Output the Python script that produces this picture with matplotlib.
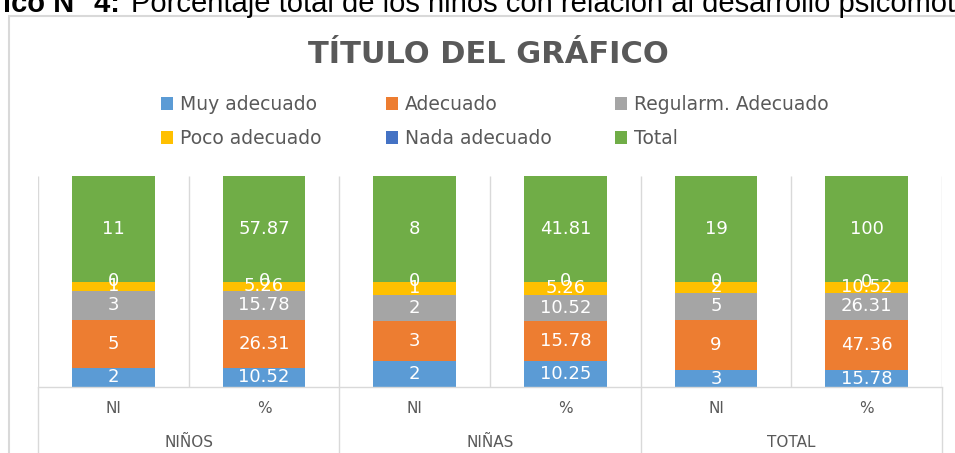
import numpy as np
import matplotlib
matplotlib.use("Agg")
import matplotlib.pyplot as plt
from matplotlib.patches import Patch, Rectangle

# categories (two-level axis)
cats = ['NI', '%', 'NI', '%', 'NI', '%']
groups = ['NIÑOS', 'NIÑAS', 'TOTAL']

# series values
muy_adecuado = [2, 10.52, 2, 10.25, 3, 15.78]
adecuado = [5, 26.31, 3, 15.78, 9, 47.36]
regular = [3, 15.78, 2, 10.52, 5, 26.31]
poco = [1, 5.26, 1, 5.26, 2, 10.52]
nada = [0, 0, 0, 0, 0, 0]
total = [11, 57.87, 8, 41.81, 19, 100]

series = [
    ('Muy adecuado', muy_adecuado, '#5B9BD5'),
    ('Adecuado', adecuado, '#ED7D31'),
    ('Regularm. Adecuado', regular, '#A5A5A5'),
    ('Poco adecuado', poco, '#FFC000'),
    ('Nada adecuado', nada, '#4472C4'),
    ('Total', total, '#70AD47'),
]

grey = '#595959'
line = '#D9D9D9'

W, H = 955, 453
fig = plt.figure(figsize=(W / 100, H / 100), dpi=100)

# caption above the chart (cut off in the source)
fig.text(120 / W, 1 - 12 / H, 'Gráfico N° 4:', ha='right', va='baseline',
         fontsize=21, fontweight='bold', family='Liberation Sans', color='black')
fig.text(131 / W, 1 - 12 / H,
         'Porcentaje total de los niños con relación al desarrollo psicomotor',
         ha='left', va='baseline', fontsize=21, family='Liberation Sans', color='black')

# chart area border
fig.add_artist(Rectangle((9 / W, -0.1), 1.2, 1 - 16 / H + 0.1, transform=fig.transFigure,
                         fill=False, edgecolor=line, lw=1.5))

fig.text(488 / W, 1 - 63 / H, 'TÍTULO DEL GRÁFICO', ha='center', va='baseline',
         fontsize=22, fontweight='bold', color=grey)

ax = fig.add_axes([38 / W, 66 / H, (942 - 38) / W, 211 / H])

x = np.arange(len(cats))
sums = np.sum([np.array(v, dtype=float) for _, v, _ in series], axis=0)
bottom = np.zeros(len(cats))
handles = {}
for name, vals, color in series:
    frac = np.array(vals, dtype=float) / sums
    bars = ax.bar(x, frac, 0.55, bottom=bottom, color=color, zorder=2)
    ax.bar_label(bars, labels=[f'{v:g}' for v in vals], label_type='center',
                 color='white', fontsize=13, zorder=3)
    handles[name] = Patch(facecolor=color)
    bottom += frac

ax.set_xlim(-0.5, 5.5)
ax.set_ylim(0, 1)
ax.set_yticks([])
for s in ['top', 'left', 'right']:
    ax.spines[s].set_visible(False)
ax.spines['bottom'].set_color(line)
ax.spines['bottom'].set_linewidth(1)

# separators between categories
xt = ax.get_xaxis_transform()
ax.vlines(np.arange(-0.5, 6, 1), 0, 1, transform=xt, color=line, lw=1, zorder=1)
ax.vlines([-0.5, 1.5, 3.5, 5.5], -0.5, 0, transform=xt, color=line, lw=1, clip_on=False)

ax.set_xticks(x, cats)
ax.tick_params(axis='x', length=0, pad=10, labelsize=11, labelcolor=grey)
for i, g in enumerate(groups):
    ax.text(2 * i + 0.5, -(447 - 387) / 211, g, transform=xt, ha='center',
            va='baseline', fontsize=11, color=grey)

order = ['Muy adecuado', 'Poco adecuado', 'Adecuado', 'Nada adecuado',
         'Regularm. Adecuado', 'Total']
fig.legend([handles[n] for n in order], order, ncol=3, loc='center',
           bbox_to_anchor=(495 / W, 1 - 121.5 / H), frameon=False, fontsize=13.5,
           labelcolor=grey, handlelength=0.64, handleheight=0.64, handletextpad=0.37,
           columnspacing=3.4, labelspacing=0.8, borderpad=0)

fig.savefig('out.png', dpi=100)
